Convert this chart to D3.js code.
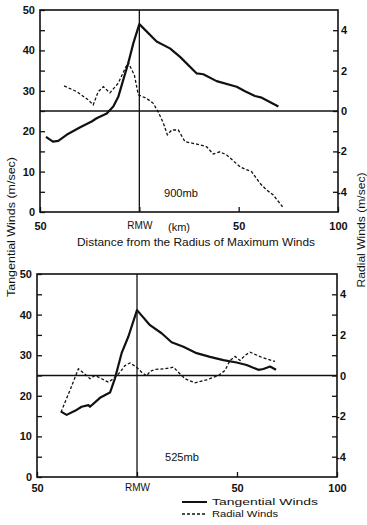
<!DOCTYPE html>
<html lang="en">

<head>
    <meta charset="UTF-8">
    <title>Tangential and Radial Winds</title>
    <script src="https://d3js.org/d3.v7.min.js"></script>
    <style>
        body {
            margin: 0;
            background: #fff;
        }

        svg {
            display: block;
        }

        text {
            font-family: "Liberation Sans", sans-serif;
            fill: #111;
        }

        .tick text {
            font-size: 11px;
            font-weight: bold;
        }

        .frame {
            fill: none;
            stroke: #111;
            stroke-width: 1.6;
        }
    </style>
</head>

<body>
    <script>

        // distance from RMW (km, negative = inside) and winds
        const tanDist900 = [-47, -43.5, -40.8, -36.6, -30, -24, -21.5, -16.4, -13.1, -10.6, -8.1, -5.6, -3, 0, 8.7, 15.4, 20.5, 28.9, 32.2, 38.9, 49, 53.2, 58.2, 61.6, 70]
        const tan900 = [18.6, 17.4, 17.6, 19.1, 20.9, 22.4, 23.2, 24.4, 26.1, 28.5, 32.7, 36.8, 41.8, 46.5, 42.2, 40.5, 38.4, 34.3, 34.1, 32.4, 31.0, 29.9, 28.7, 28.3, 26.1]

        const radDist900 = [-37.9, -31.5, -25.7, -23.2, -20.7, -18.1, -14.8, -10.6, -7.2, -5.6, -2.5, -0.5, 3.7, 7.0, 9.5, 12.1, 14.1, 16.3, 19.6, 23.0, 28.9, 33.9, 37.2, 40.6, 44.0, 50.7, 53.2, 56.5, 60.7, 64.1, 67.4, 72.1]
        const rad900 = [1.24, 0.96, 0.55, 0.3, 0.96, 1.2, 0.9, 1.38, 2.1, 2.4, 1.78, 0.8, 0.62, 0.38, -0.04, -0.6, -1.18, -0.94, -0.94, -1.52, -1.64, -1.77, -2.13, -2.02, -2.18, -2.76, -2.88, -3.0, -3.58, -3.91, -4.16, -4.74]

        const tanDist525 = [-38, -35.2, -31, -27.7, -24.3, -23.5, -18.5, -15.2, -13.5, -11, -7.7, -4.3, 0, 6.5, 12.3, 17.3, 23.2, 29.8, 36.5, 43.2, 49.8, 54.8, 60.7, 63.2, 66.5, 69.5]
        const tan525 = [16.1, 15.3, 16.3, 17.3, 17.7, 17.3, 19.5, 20.4, 20.8, 24.3, 30.5, 34.6, 41.1, 37.4, 35.4, 33.2, 32.1, 30.5, 29.6, 28.8, 28.2, 27.6, 26.4, 26.6, 27.2, 26.4]

        const radDist525 = [-38, -33, -29.3, -26.8, -23.5, -21, -17.7, -14.3, -11.8, -8.5, -6, -3.5, -0.2, 2.3, 4.8, 6.5, 9, 14, 18.2, 20.7, 24, 29, 34.8, 40.7, 44, 46.5, 49, 51.5, 54, 56.5, 62.3, 69]
        const rad525 = [-1.81, -0.6, 0.33, 0.13, -0.16, 0, -0.16, -0.33, -0.16, 0.16, 0.49, 0.62, 0.41, 0.16, -0.02, 0.2, 0.3, 0.33, 0.41, 0.16, -0.16, -0.36, -0.21, 0, 0.25, 0.74, 0.94, 0.74, 0.99, 1.15, 0.9, 0.69]

        const xTicks = [-50, 0, 50, 100]
        const xTickLabels = ["50", "RMW", "50", "100"]
        const tanTicks = d3.range(0, 51, 5)
        const radTicks = d3.range(-4, 5, 1)

        const width = 367
        const height = 525

        const svg = d3.select("body").append("svg")
            .attr("width", width)
            .attr("height", height)

        const panels = [
            { name: "900mb", dist: [tanDist900, radDist900], vals: [tan900, rad900], left: 40, right: 338, top: 10, bottom: 212, pad: 10, tagX: 164, tagY: 197 },
            { name: "525mb", dist: [tanDist525, radDist525], vals: [tan525, rad525], left: 37, right: 337, top: 274, bottom: 477, pad: 7, tagX: 165, tagY: 461 }
        ]

        panels.forEach((p, i) => {
            let x = d3.scaleLinear().domain([-50, 100]).range([p.left, p.right])
            let yT = d3.scaleLinear().domain([0, 50]).range([p.bottom, p.top])
            let yR = d3.scaleLinear().domain([-5, 5]).range([p.bottom, p.top])

            let g = svg.append("g")

            // left axis (tangential)
            let axL = g.append("g")
                .attr("transform", `translate(${p.left},0)`)
                .call(d3.axisLeft(yT).tickValues(tanTicks).tickSize(-5).tickPadding(5)
                    .tickFormat(d => d % 10 === 0 ? d : ""))
            // right axis (radial)
            let axR = g.append("g")
                .attr("transform", `translate(${p.right},0)`)
                .call(d3.axisRight(yR).tickValues(radTicks).tickSize(-5).tickPadding(3)
                    .tickFormat(d => d % 2 === 0 ? String(d) : ""))
            axR.selectAll(".tick text").attr("dx", d => d < 0 ? -4 : 0)
            // bottom axis
            let axB = g.append("g")
                .attr("transform", `translate(0,${p.bottom})`)
                .call(d3.axisBottom(x).tickValues(xTicks).tickSize(-5).tickPadding(p.pad)
                    .tickFormat((d, j) => xTickLabels[j]))
            axB.selectAll(".tick text").filter(d => d === 0)
                .style("font-size", "10px").style("font-weight", "normal")

            g.selectAll(".domain").remove()
            g.selectAll(".tick line").attr("stroke", "#111").attr("stroke-width", 1.3)

            g.append("rect").attr("class", "frame")
                .attr("x", p.left).attr("y", p.top)
                .attr("width", p.right - p.left).attr("height", p.bottom - p.top)

            // zero radial line and RMW line
            g.append("line")
                .attr("x1", p.left).attr("x2", p.right)
                .attr("y1", yR(0)).attr("y2", yR(0))
                .attr("stroke", "#111").attr("stroke-width", 1.3)
            g.append("line")
                .attr("x1", x(0)).attr("x2", x(0))
                .attr("y1", p.top).attr("y2", p.bottom)
                .attr("stroke", "#111").attr("stroke-width", 1.3)

            let tanLine = d3.line().x(d => x(d[0])).y(d => yT(d[1]))
            let radLine = d3.line().x(d => x(d[0])).y(d => yR(d[1]))

            g.append("path")
                .datum(d3.zip(p.dist[1], p.vals[1]))
                .attr("d", radLine)
                .attr("fill", "none").attr("stroke", "#111")
                .attr("stroke-width", 1.3).attr("stroke-dasharray", "3,2")

            g.append("path")
                .datum(d3.zip(p.dist[0], p.vals[0]))
                .attr("d", tanLine)
                .attr("fill", "none").attr("stroke", "#111")
                .attr("stroke-width", 2.2).attr("stroke-linejoin", "round")

            g.append("text")
                .attr("x", p.tagX).attr("y", p.tagY)
                .style("font-size", "11px")
                .attr("textLength", 34).attr("lengthAdjust", "spacingAndGlyphs")
                .text(p.name)
        })

        // labels
        svg.append("text")
            .attr("x", 179).attr("y", 231)
            .attr("text-anchor", "middle")
            .style("font-size", "11px")
            .text("(km)")

        svg.append("text")
            .attr("x", 196).attr("y", 246)
            .attr("text-anchor", "middle")
            .style("font-size", "10.5px")
            .attr("textLength", 238).attr("lengthAdjust", "spacingAndGlyphs")
            .text("Distance from the Radius of Maximum Winds")

        svg.append("text")
            .attr("transform", "translate(15,227) rotate(-90)")
            .attr("text-anchor", "middle")
            .style("font-size", "10.5px")
            .attr("textLength", 140).attr("lengthAdjust", "spacingAndGlyphs")
            .text("Tangential Winds (m/sec)")

        svg.append("text")
            .attr("transform", "translate(365,230) rotate(-90)")
            .attr("text-anchor", "middle")
            .style("font-size", "10.5px")
            .attr("textLength", 115).attr("lengthAdjust", "spacingAndGlyphs")
            .text("Radial Winds (m/sec)")

        // legend
        const legend = [
            { name: "Tangential Winds", dash: null, w: 2, y: 502, len: 106 },
            { name: "Radial Winds", dash: "3,2", w: 1.3, y: 514, len: 66 }
        ]
        legend.forEach(l => {
            svg.append("line")
                .attr("x1", 182).attr("x2", 207)
                .attr("y1", l.y).attr("y2", l.y)
                .attr("stroke", "#111").attr("stroke-width", l.w)
                .attr("stroke-dasharray", l.dash)
            svg.append("text")
                .attr("x", 212).attr("y", l.y + 3)
                .style("font-size", "9.5px")
                .attr("textLength", l.len).attr("lengthAdjust", "spacingAndGlyphs")
                .text(l.name)
        })

    </script>
</body>

</html>
